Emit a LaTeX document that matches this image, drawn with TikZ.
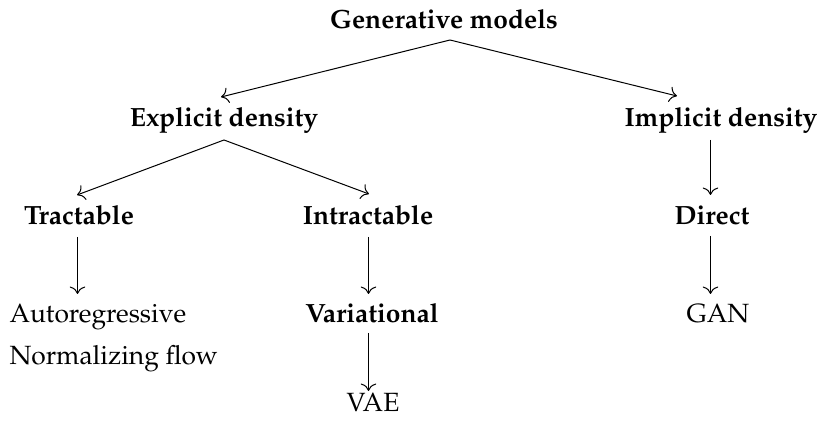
\documentclass[tikz,border=0pt]{standalone}
\usepackage[T1]{fontenc}
\usepackage{mathpazo}
\usetikzlibrary{arrows.meta}
\begin{document}
\begin{tikzpicture}[x=0.4pt,y=-0.4pt,
  lbl/.style={anchor=base,inner sep=0pt,font=\fontsize{10.55}{12.6}\selectfont},
  blbl/.style={lbl,font=\fontsize{10.55}{12.6}\selectfont\bfseries},
  arr/.style={-{To[scale=1.2]},line width=0.4pt}]
\useasboundingbox (0,0) rectangle (822,425);
% nodes
\node[blbl] (gm) at (444,29) {Generative models};
\node[blbl] (ed) at (224,127) {Explicit density};
\node[blbl] (id) at (721,127) {Implicit density};
\node[blbl] (tr) at (79,225) {Tractable};
\node[blbl] (in) at (368,225) {Intractable};
\node[blbl] (di) at (712,225) {Direct};
\node[lbl,anchor=base west] (ar) at (9,323) {Autoregressive};
\node[lbl,anchor=base west] (nf) at (9,365) {Normalizing flow};
\node[blbl] (va) at (372,323) {Variational};
\node[lbl] (ga) at (718,323) {GAN};
\node[lbl] (vae) at (373,412) {VAE};
% connector end points
\coordinate (gm-o) at (450,40);
\coordinate (ed-i) at (221,97);
\coordinate (id-i) at (677,96);
\coordinate (ed-o) at (224,140);
\coordinate (tr-i) at (77,195);
\coordinate (in-i) at (369,194);
\coordinate (tr-o) at (77.5,237);
\coordinate (ar-i) at (77.5,294);
\coordinate (in-o) at (368.5,237);
\coordinate (va-i) at (368.5,294);
\coordinate (va-o) at (368.5,333);
\coordinate (vae-i) at (368.5,391);
\coordinate (id-o) at (710.5,140);
\coordinate (di-i) at (710.5,195);
\coordinate (di-o) at (710.5,236);
\coordinate (ga-i) at (710.5,294);
% connectors
\draw[arr] (gm-o) -- (ed-i);
\draw[arr] (gm-o) -- (id-i);
\draw[arr] (ed-o) -- (tr-i);
\draw[arr] (ed-o) -- (in-i);
\draw[arr] (tr-o) -- (ar-i);
\draw[arr] (in-o) -- (va-i);
\draw[arr] (va-o) -- (vae-i);
\draw[arr] (id-o) -- (di-i);
\draw[arr] (di-o) -- (ga-i);
\end{tikzpicture}
\end{document}
